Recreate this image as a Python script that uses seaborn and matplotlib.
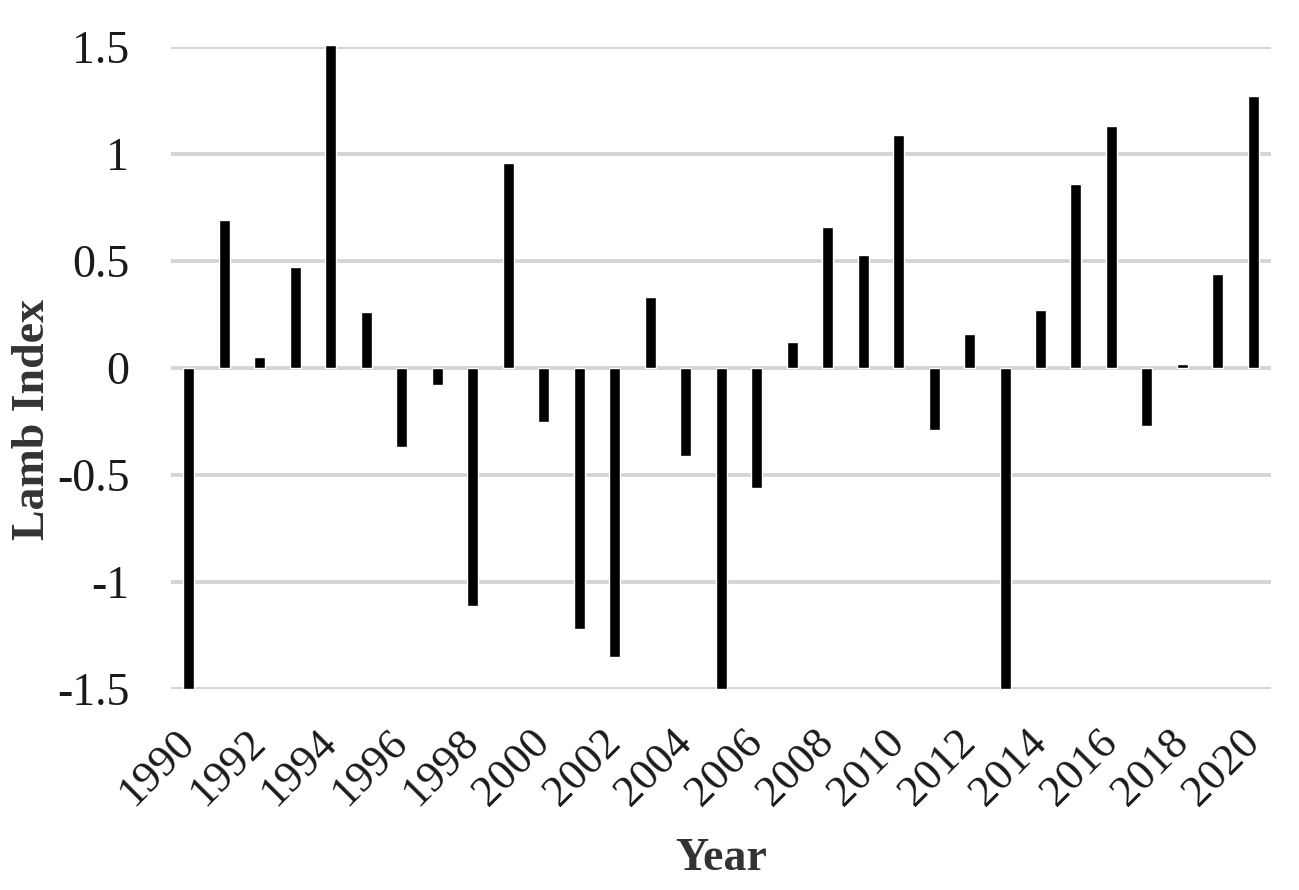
import matplotlib
matplotlib.use("Agg")
import matplotlib.pyplot as plt
import seaborn as sns
import pandas as pd

years = list(range(1990, 2021))
lamb_index = [-1.50, 0.69, 0.05, 0.47, 1.51, 0.26, -0.37, -0.08, -1.11, 0.96,
              -0.25, -1.22, -1.35, 0.33, -0.41, -1.50, -0.56, 0.12, 0.66, 0.53,
              1.09, -0.29, 0.16, -1.50, 0.27, 0.86, 1.13, -0.27, 0.02, 0.44, 1.27]
y_ticks = [-1.5, -1, -0.5, 0, 0.5, 1, 1.5]
y_tick_labels = ["-1.5", "-1", "-0.5", "0", "0.5", "1", "1.5"]

sns.set_theme(style="white")
plt.rcParams['font.family'] = ['Liberation Serif', 'DejaVu Serif']

df = pd.DataFrame({"Year": [str(y) for y in years], "Lamb Index": lamb_index})

fig = plt.figure(figsize=(12.99, 8.90), dpi=100)
ax = fig.add_axes([0.1316, 0.2258, 0.8470, 0.7214])

ax.yaxis.grid(True, color="#d4d4d4", linewidth=2.8)
ax.set_axisbelow(True)

sns.barplot(data=df, x="Year", y="Lamb Index", color="black", width=0.31,
            saturation=1, ax=ax, zorder=3)
for p in ax.patches:
    p.set_clip_on(False)

ax.set_xlim(-0.5, len(years) - 0.5)
ax.set_ylim(-1.5, 1.5)
ax.set_yticks(y_ticks)
ax.set_yticklabels(y_tick_labels, fontsize=33, color="#1a1a1a")

ax.set_xticks(range(0, len(years), 2))
ax.set_xticklabels([str(y) for y in years[::2]], rotation=45, ha="right",
                   va="center", rotation_mode="anchor", fontsize=32,
                   color="#1a1a1a")
ax.tick_params(axis="x", length=0, pad=34)
ax.tick_params(axis="y", length=0, pad=30)

for s in ax.spines.values():
    s.set_visible(False)

ax.set_xlabel("Year", fontsize=33, fontweight="bold", color="#333333")
ax.xaxis.set_label_coords(0.5, -0.232)
ax.set_ylabel("Lamb Index", fontsize=33, fontweight="bold", color="#333333")
ax.yaxis.set_label_coords(-0.106, 0.42)

fig.savefig("out.png", dpi=100)
